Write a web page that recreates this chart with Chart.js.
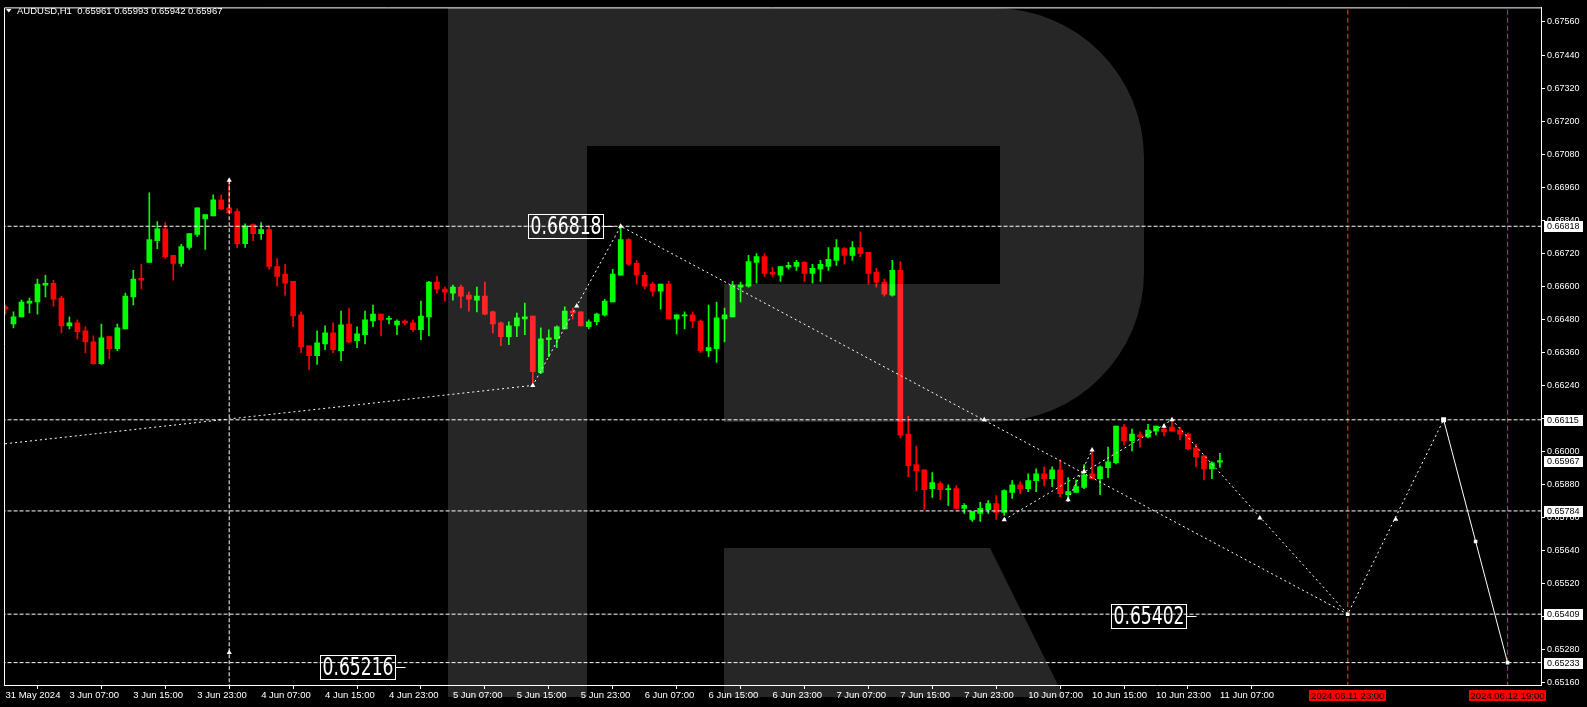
<!DOCTYPE html>
<html><head><meta charset="utf-8">
<script src="https://cdn.jsdelivr.net/npm/chart.js@4.4.1/dist/chart.umd.min.js"></script>
<style>html,body{margin:0;padding:0;background:#000;overflow:hidden}canvas{display:block}</style>
</head><body><canvas id="c" width="1587" height="707"></canvas>
<script>
// ---- candle data (AUDUSD H1), bar 0 = 31 May 2024 23:00 ----
const opens = [0.66525,0.66463,0.66489,0.66539,0.66543,0.66604,0.66611,0.66557,0.66456,0.66467,
0.66438,0.66398,0.66319,0.66417,0.66373,0.66445,0.66561,0.66629,0.66687,0.66766,
0.66809,0.66712,0.66683,0.66741,0.66788,0.66845,0.66856,0.66914,0.66885,0.66871,
0.66755,0.66824,0.66791,0.66806,0.66672,0.66644,0.66618,0.66496,0.66384,0.66348,
0.66391,0.66431,0.66366,0.66463,0.66402,0.66424,0.66474,0.66499,0.66480,0.66460,
0.66474,0.66467,0.66442,0.66489,0.66615,0.66590,0.66575,0.66597,0.66568,0.66550,
0.66564,0.66507,0.66467,0.66417,0.66456,0.66481,0.66492,0.66287,0.66406,0.66409,
0.66445,0.66510,0.66507,0.66453,0.66471,0.66496,0.66543,0.66640,0.66770,0.66683,
0.66640,0.66608,0.66582,0.66608,0.66481,0.66492,0.66496,0.66474,0.66366,0.66373,
0.66481,0.66489,0.66597,0.66600,0.66687,0.66708,0.66651,0.66640,0.66669,0.66672,
0.66687,0.66647,0.66662,0.66672,0.66694,0.66737,0.66712,0.66741,0.66723,0.66651,
0.66615,0.66568,0.66658,0.66063,0.65952,0.65933,0.65865,0.65883,0.65861,0.65865,
0.65793,0.65753,0.65775,0.65789,0.65811,0.65779,0.65851,0.65879,0.65865,0.65894,
0.65919,0.65901,0.65933,0.65843,0.65851,0.65869,0.65919,0.65901,0.65941,0.65959,
0.66089,0.66038,0.66060,0.66053,0.66074,0.66081,0.66089,0.66078,0.66063,0.66013,
0.65984,0.65937,0.65961];
const highs = [0.66532,0.66507,0.66550,0.66557,0.66626,0.66640,0.66622,0.66564,0.66489,0.66478,
0.66453,0.66420,0.66463,0.66417,0.66463,0.66575,0.66658,0.66680,0.66939,0.66835,
0.66831,0.66712,0.66752,0.66791,0.66885,0.66860,0.66932,0.66932,0.66982,0.66881,
0.66827,0.66827,0.66831,0.66820,0.66701,0.66680,0.66618,0.66507,0.66384,0.66438,
0.66456,0.66467,0.66510,0.66521,0.66453,0.66510,0.66532,0.66499,0.66492,0.66478,
0.66478,0.66478,0.66546,0.66618,0.66636,0.66597,0.66604,0.66604,0.66579,0.66597,
0.66615,0.66510,0.66471,0.66471,0.66503,0.66539,0.66492,0.66449,0.66442,0.66456,
0.66525,0.66521,0.66507,0.66478,0.66503,0.66553,0.66662,0.66818,0.66773,0.66694,
0.66651,0.66615,0.66608,0.66618,0.66496,0.66507,0.66507,0.66478,0.66532,0.66543,
0.66521,0.66618,0.66615,0.66712,0.66719,0.66719,0.66669,0.66672,0.66687,0.66694,
0.66690,0.66680,0.66694,0.66741,0.66770,0.66741,0.66762,0.66798,0.66723,0.66665,
0.66626,0.66694,0.66690,0.66128,0.66020,0.65933,0.65923,0.65890,0.65879,0.65876,
0.65811,0.65782,0.65815,0.65822,0.65840,0.65861,0.65894,0.65890,0.65919,0.65937,
0.65944,0.65944,0.65970,0.65905,0.65897,0.65952,0.66006,0.65948,0.66016,0.66092,
0.66099,0.66081,0.66071,0.66099,0.66092,0.66092,0.66114,0.66089,0.66067,0.66027,
0.65984,0.65962,0.65993];
const lows = [0.66499,0.66449,0.66489,0.66503,0.66499,0.66561,0.66528,0.66431,0.66445,0.66409,
0.66359,0.66316,0.66316,0.66337,0.66366,0.66445,0.66532,0.66590,0.66687,0.66737,
0.66701,0.66622,0.66672,0.66734,0.66781,0.66734,0.66856,0.66878,0.66867,0.66741,
0.66741,0.66766,0.66770,0.66662,0.66600,0.66568,0.66453,0.66359,0.66298,0.66316,
0.66370,0.66359,0.66330,0.66395,0.66377,0.66391,0.66453,0.66420,0.66463,0.66424,
0.66460,0.66435,0.66406,0.66420,0.66575,0.66546,0.66550,0.66521,0.66510,0.66507,
0.66496,0.66431,0.66384,0.66388,0.66417,0.66424,0.66240,0.66283,0.66344,0.66377,
0.66445,0.66481,0.66456,0.66445,0.66460,0.66492,0.66543,0.66640,0.66676,0.66608,
0.66590,0.66564,0.66517,0.66481,0.66427,0.66445,0.66449,0.66359,0.66344,0.66323,
0.66398,0.66489,0.66543,0.66597,0.66611,0.66636,0.66636,0.66618,0.66662,0.66658,
0.66618,0.66611,0.66618,0.66658,0.66676,0.66680,0.66694,0.66708,0.66608,0.66597,
0.66564,0.66564,0.66049,0.65908,0.65858,0.65789,0.65833,0.65825,0.65804,0.65793,
0.65775,0.65746,0.65746,0.65775,0.65753,0.65768,0.65829,0.65847,0.65854,0.65854,
0.65876,0.65872,0.65836,0.65818,0.65851,0.65865,0.65901,0.65843,0.65905,0.65955,
0.66024,0.66002,0.66016,0.66049,0.66060,0.66056,0.66074,0.66042,0.66006,0.65944,
0.65897,0.65901,0.65942];
const closes = [0.66517,0.66489,0.66543,0.66546,0.66608,0.66611,0.66553,0.66456,0.66467,0.66435,
0.66398,0.66319,0.66413,0.66373,0.66449,0.66564,0.66626,0.66622,0.66770,0.66809,
0.66708,0.66683,0.66744,0.66791,0.66885,0.66860,0.66914,0.66881,0.66867,0.66755,
0.66820,0.66791,0.66806,0.66672,0.66636,0.66611,0.66492,0.66380,0.66348,0.66395,
0.66431,0.66370,0.66460,0.66398,0.66427,0.66478,0.66499,0.66478,0.66482,0.66474,
0.66467,0.66442,0.66492,0.66615,0.66590,0.66579,0.66597,0.66564,0.66553,0.66564,
0.66499,0.66463,0.66417,0.66456,0.66485,0.66489,0.66290,0.66409,0.66413,0.66453,
0.66510,0.66503,0.66456,0.66471,0.66499,0.66546,0.66644,0.66770,0.66680,0.66640,
0.66600,0.66582,0.66608,0.66481,0.66496,0.66496,0.66474,0.66366,0.66377,0.66485,
0.66496,0.66604,0.66604,0.66690,0.66708,0.66647,0.66644,0.66672,0.66676,0.66687,
0.66647,0.66665,0.66680,0.66698,0.66741,0.66712,0.66741,0.66719,0.66647,0.66615,
0.66571,0.66658,0.66060,0.65948,0.65930,0.65861,0.65887,0.65861,0.65865,0.65793,
0.65804,0.65782,0.65793,0.65811,0.65779,0.65858,0.65879,0.65865,0.65894,0.65919,
0.65901,0.65933,0.65847,0.65854,0.65872,0.65915,0.65901,0.65944,0.65962,0.66092,
0.66038,0.66063,0.66053,0.66078,0.66092,0.66071,0.66074,0.66063,0.66009,0.65980,
0.65937,0.65959,0.65967];

// ---- axes ----
const timeTickBars = [0,8,16,24,32,40,48,56,64,72,80,88,96,104,112,120,128,136,144,152];
const timeLabels = ['31 May 2024','3 Jun 07:00','3 Jun 15:00','3 Jun 23:00','4 Jun 07:00','4 Jun 15:00','4 Jun 23:00',
  '5 Jun 07:00','5 Jun 15:00','5 Jun 23:00','6 Jun 07:00','6 Jun 15:00','6 Jun 23:00','7 Jun 07:00','7 Jun 15:00',
  '7 Jun 23:00','10 Jun 07:00','10 Jun 15:00','10 Jun 23:00','11 Jun 07:00'];
const futureBars = [168, 188];
const futureLabels = ['2024.06.11 23:00', '2024.06.12 19:00'];
const priceTicks = [0.6516,0.6528,0.6540,0.6552,0.6564,0.6576,0.6588,0.6600,0.6612,0.6624,0.6636,
  0.6648,0.6660,0.6672,0.6684,0.6696,0.6708,0.6720,0.6732,0.6744,0.6756];

// ---- analysis objects ----
const hLevels = [0.66818, 0.66115, 0.65784, 0.65409, 0.65233];
const axisMarks = [0.66818, 0.66115, 0.65784, 0.65409, 0.65233];
const zigzagMain = [[-10,0.65996],[66,0.66240],[77,0.66818],[168,0.65409]];
const zigzagNext = [[125,0.65752],[146,0.66115],[168,0.65409],[180,0.66115]];
const zigzagSmall = [[133,0.65825],[136,0.66005]];
const forecastSolid = [[180,0.66115],[188,0.65233]];
const markBar = 28, markTop = 0.66985, markBottom = 0.64900;
const arrowPts = [[28,0.66985],[28,0.65270],[66,0.66240],[71.5,0.66528],[77,0.66818],[122.5,0.66115],
  [125,0.65752],[133,0.65825],[135,0.65927],[136,0.66005],[145,0.66092],[146,0.66115],[157,0.65758],[174,0.65754]];
const squarePts = [[168,0.65409],[184,0.65673],[188,0.65233]];
const bigSquarePts = [[180,0.66115]];
const tagTexts = ['0.66818','0.65402','0.65216'];
const tagBars = [76, 149, 50];
const tagPrices = [0.66818, 0.65402, 0.65216];

const GREEN = '#00ff00', RED = '#ff0000';
const colors = opens.map((o,i) => closes[i] >= o ? GREEN : RED);
const bodies = opens.map((o,i) => ({x:i, y:[Math.min(o,closes[i]), Math.max(o,closes[i])]}));
const wicks = lows.map((l,i) => ({x:i, y:[l, highs[i]]}));

function lineDs(pts, dash, color, width) {
  return {type:'line', data: pts.map(p => ({x:p[0], y:p[1]})), borderColor: color, borderWidth: width || 1,
    borderDash: dash, pointRadius: 0, fill: false, tension: 0, order: 0};
}
function pointDs(pts, style, r) {
  return {type:'line', showLine:false, data: pts.map(p => ({x:p[0], y:p[1]})), pointStyle: style, pointRadius: r,
    pointBackgroundColor:'#fff', pointBorderColor:'#fff', pointBorderWidth:0, order: 0};
}

const datasets = [
  pointDs(bigSquarePts, 'rect', 3.5),
  pointDs(squarePts, 'rect', 2.5),
  pointDs(arrowPts, 'triangle', 3),
  lineDs(forecastSolid, [], '#ffffff', 1),
  lineDs(zigzagMain, [2,3], '#ffffff'),
  lineDs(zigzagNext, [2,3], '#ffffff'),
  lineDs(zigzagSmall, [2,3], '#ffffff'),
  lineDs([[markBar, markTop],[markBar, markBottom]], [4,2], '#ffffff'),
  ...hLevels.map(v => lineDs([[-5,v],[200,v]], [4,2], '#ffffff')),
  ...futureBars.map(b => lineDs([[b,0.6775],[b,0.6490]], [5,3], '#ff2020', 1.2)),
  {type:'bar', data: bodies, backgroundColor: colors, borderWidth:0, barThickness:5, grouped:false, minBarLength:1, order:0},
  {type:'bar', data: wicks, backgroundColor: colors, borderWidth:0, barThickness:1, grouped:false, minBarLength:1, order:0}
];

const overlay = {
  id: 'overlay',
  beforeDraw(c) { const g = c.ctx; g.save(); g.fillStyle = '#000'; g.fillRect(0,0,c.width,c.height); g.restore(); },
  afterDraw(c) {
    const g = c.ctx, xs = c.scales.x, ys = c.scales.y, a = c.chartArea;
    g.save();
    // frame top/left
    g.strokeStyle = '#fff'; g.lineWidth = 1; g.setLineDash([]);
    g.beginPath(); g.moveTo(a.left + 0.5, a.bottom); g.lineTo(a.left + 0.5, a.top + 0.5); g.lineTo(a.right, a.top + 0.5); g.stroke();

    // price tags with boxes
    for (let k = 0; k < tagTexts.length; k++) {
      const ax = Math.round(xs.getPixelForValue(tagBars[k])) + 0.5;
      const ay = Math.round(ys.getPixelForValue(tagPrices[k])) + 0.5;
      const bw = 75, bh = 24, right = ax - 10;
      g.strokeStyle = '#fff'; g.lineWidth = 1;
      g.beginPath(); g.moveTo(right, ay); g.lineTo(ax, ay); g.stroke();
      g.strokeRect(right - bw, ay - bh/2, bw, bh);
      g.font = '25px "Liberation Sans Narrow", "DejaVu Sans Condensed", "Liberation Sans", sans-serif';
      g.fillStyle = '#fff'; g.textBaseline = 'middle'; g.textAlign = 'left';
      const w = g.measureText(tagTexts[k]).width, target = 71;
      g.save(); g.translate(right - bw + 2, ay + 1); g.scale(target / w, 1); g.fillText(tagTexts[k], 0, 0); g.restore();
    }

    // axis price boxes
    const marks = axisMarks.concat([closes[closes.length - 1]]);
    g.font = '9px "Liberation Sans", sans-serif'; g.textBaseline = 'middle'; g.textAlign = 'left';
    for (const v of marks) {
      const y = Math.round(ys.getPixelForValue(v));
      g.fillStyle = '#fff'; g.fillRect(a.right + 3, y - 5, 39, 11);
      g.fillStyle = '#000'; g.fillText(v.toFixed(5), a.right + 6, y + 0.5);
    }

    // future time boxes
    g.font = '9.5px "Liberation Sans", sans-serif'; g.textAlign = 'center';
    for (let k = 0; k < futureBars.length; k++) {
      const x = xs.getPixelForValue(futureBars[k]);
      g.fillStyle = '#ff0000'; g.fillRect(Math.round(x - 38.5), a.bottom + 5, 77, 11);
      g.fillStyle = '#000'; g.fillText(futureLabels[k], x, a.bottom + 11);
    }

    // title
    const L = closes.length - 1;
    g.fillStyle = '#fff'; g.textAlign = 'left'; g.textBaseline = 'alphabetic';
    g.font = '9.5px "Liberation Sans", sans-serif';
    g.fillText('AUDUSD,H1  ' + [opens[L], highs[L], lows[L], closes[L]].map(v => v.toFixed(5)).join(' '), 17, 14);
    g.beginPath(); g.moveTo(6, 9); g.lineTo(11.5, 9); g.lineTo(8.75, 12.5); g.closePath(); g.fill();

    // watermark "R"
    g.fillStyle = 'rgba(255,255,255,0.15)';
    g.beginPath();
    g.moveTo(448, 8); g.lineTo(994, 8);
    g.arc(994, 158, 150, -Math.PI/2, 0);
    g.lineTo(1144, 272);
    g.arc(994, 272, 150, 0, Math.PI/2);
    g.lineTo(724, 422); g.lineTo(724, 284); g.lineTo(1000, 284); g.lineTo(1000, 146);
    g.lineTo(587, 146); g.lineTo(587, 697); g.lineTo(448, 697); g.closePath();
    g.fill();
    g.beginPath();
    g.moveTo(724, 548); g.lineTo(990, 548); g.lineTo(1064, 697); g.lineTo(724, 697); g.closePath();
    g.fill();
    g.restore();
  }
};

Chart.defaults.color = '#fff';
new Chart(document.getElementById('c'), {
  type: 'bar',
  data: { datasets },
  options: {
    responsive: false, animation: false, events: [],
    layout: { padding: { left: 2, top: 2, right: 0, bottom: 0 } },
    plugins: { legend: { display: false }, tooltip: { enabled: false } },
    scales: {
      x: {
        type: 'linear', position: 'bottom', min: -0.1875, max: 192.1875, offset: false,
        grid: { display: true, drawOnChartArea: false, drawTicks: true, tickLength: 4, color: '#fff', lineWidth: 1 },
        border: { display: true, color: '#fff', width: 1 },
        ticks: { color: '#fff', font: { family: 'Liberation Sans', size: 9.5 }, align: 'start', maxRotation: 0, minRotation: 0,
          autoSkip: false, padding: 1, callback: (v, i) => timeLabels[i] },
        afterBuildTicks: s => { s.ticks = timeTickBars.map(v => ({ value: v })); },
        afterFit: s => { s.height = 22; }
      },
      y: {
        type: 'linear', position: 'right', min: 0.651517, max: 0.676130,
        grid: { display: true, drawOnChartArea: false, drawTicks: true, tickLength: 4, color: '#fff', lineWidth: 1 },
        border: { display: true, color: '#fff', width: 1 },
        ticks: { color: '#fff', font: { family: 'Liberation Sans', size: 9 }, padding: 2, autoSkip: false,
          callback: v => Number(v).toFixed(5) },
        afterBuildTicks: s => { s.ticks = priceTicks.map(v => ({ value: v })); },
        afterFit: s => { s.width = 46; }
      }
    }
  },
  plugins: [overlay]
});
</script>
</body></html>
